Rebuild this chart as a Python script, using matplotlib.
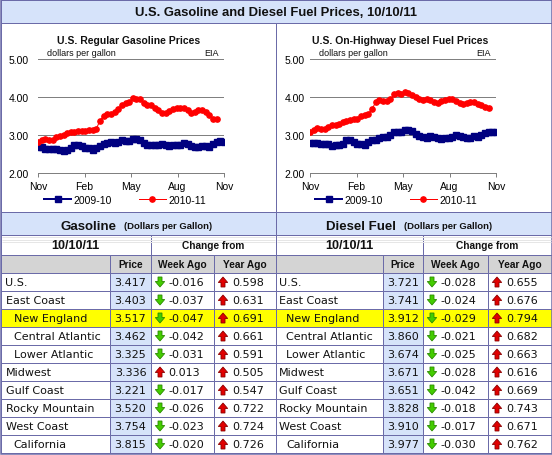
import matplotlib
matplotlib.use('Agg')
import matplotlib.pyplot as plt
from matplotlib.patches import Rectangle, Polygon
import numpy as np

W, H = 552, 456

# weekly retail prices, dollars per gallon (Nov .. Oct)
gas_0910 = [2.697, 2.683, 2.640, 2.633, 2.637, 2.636, 2.599, 2.583, 2.606, 2.655,
            2.749, 2.739, 2.698, 2.660, 2.653, 2.609, 2.650, 2.711, 2.767, 2.790,
            2.815, 2.788, 2.822, 2.862, 2.855, 2.849, 2.900, 2.902, 2.878, 2.797,
            2.745, 2.733, 2.728, 2.737, 2.756, 2.730, 2.720, 2.726, 2.729, 2.733,
            2.780, 2.756, 2.706, 2.687, 2.694, 2.717, 2.712, 2.696, 2.760, 2.819,
            2.829, 2.814]
gas_1011 = [2.804, 2.869, 2.889, 2.868, 2.857, 2.939, 2.985, 2.998, 3.054, 3.076,
            3.073, 3.109, 3.095, 3.101, 3.132, 3.134, 3.169, 3.375, 3.511, 3.564,
            3.554, 3.595, 3.684, 3.791, 3.842, 3.879, 3.965, 3.960, 3.946, 3.846,
            3.794, 3.787, 3.712, 3.652, 3.571, 3.573, 3.632, 3.683, 3.704, 3.705,
            3.700, 3.646, 3.577, 3.617, 3.670, 3.669, 3.609, 3.524, 3.433, 3.417]
dsl_0910 = [2.802, 2.800, 2.783, 2.774, 2.764, 2.754, 2.722, 2.728, 2.726, 2.772,
            2.867, 2.861, 2.815, 2.766, 2.760, 2.745, 2.823, 2.856, 2.880, 2.909,
            2.944, 2.940, 3.012, 3.075, 3.072, 3.071, 3.122, 3.133, 3.094, 3.037,
            2.983, 2.953, 2.918, 2.977, 2.940, 2.919, 2.905, 2.918, 2.929, 2.940,
            2.997, 2.966, 2.949, 2.926, 2.929, 2.963, 2.957, 2.990, 3.058, 3.066,
            3.076, 3.075]
dsl_1011 = [3.066, 3.143, 3.183, 3.163, 3.156, 3.220, 3.253, 3.270, 3.281, 3.334,
            3.358, 3.394, 3.413, 3.427, 3.487, 3.520, 3.563, 3.687, 3.857, 3.912,
            3.896, 3.906, 3.939, 4.068, 4.098, 4.092, 4.124, 4.104, 4.061, 3.997,
            3.948, 3.931, 3.950, 3.923, 3.865, 3.836, 3.887, 3.931, 3.949, 3.954,
            3.901, 3.838, 3.807, 3.846, 3.865, 3.856, 3.825, 3.789, 3.749, 3.721]

month_labels = ['Nov', 'Feb', 'May', 'Aug', 'Nov']
y_labels = ['2.00', '3.00', '4.00', '5.00']

regions = ['U.S.', 'East Coast', 'New England', 'Central Atlantic', 'Lower Atlantic',
           'Midwest', 'Gulf Coast', 'Rocky Mountain', 'West Coast', 'California']
indented = [False, False, True, True, True, False, False, False, False, True]
highlight = 'New England'

gas_price = [3.417, 3.403, 3.517, 3.462, 3.325, 3.336, 3.221, 3.520, 3.754, 3.815]
gas_week = [-0.016, -0.037, -0.047, -0.042, -0.031, 0.013, -0.017, -0.026, -0.023, -0.020]
gas_year = [0.598, 0.631, 0.691, 0.661, 0.591, 0.505, 0.547, 0.722, 0.724, 0.726]
dsl_price = [3.721, 3.741, 3.912, 3.860, 3.674, 3.671, 3.651, 3.828, 3.910, 3.977]
dsl_week = [-0.028, -0.024, -0.029, -0.021, -0.025, -0.028, -0.042, -0.018, -0.017, -0.030]
dsl_year = [0.655, 0.676, 0.794, 0.682, 0.663, 0.616, 0.669, 0.743, 0.671, 0.762]

BORDER = '#6b6ba8'
LIGHTBLUE = '#d6e3fa'
HEADGRAY = '#d4d4d4'
GRID = '#808080'
NAVY = '#000080'
RED = '#ff0000'
TXT = '#111111'
ARIAL = 'Liberation Sans'
VERDANA = 'DejaVu Sans'
PX = 0.72  # one pixel in points

fig = plt.figure(figsize=(W / 100, H / 100), dpi=100)
bg = fig.add_axes([0, 0, 1, 1])
bg.set_xlim(0, W)
bg.set_ylim(H, 0)
bg.axis('off')


def box(x0, y0, x1, y1, fc, ec=BORDER, lw=1):
    bg.add_patch(Rectangle((x0, y0), x1 - x0, y1 - y0, facecolor=fc,
                           edgecolor=ec, linewidth=lw * PX))


def hline(y, x0, x1, color=BORDER, lw=1):
    bg.plot([x0, x1], [y, y], color=color, lw=lw * PX, solid_capstyle='butt')


def arrow(cx, cy, up):
    # little up/down arrow icon, 9 px wide and 10 px tall
    s = -1 if up else 1
    pts = [(cx - 2, cy - s * 5), (cx + 2, cy - s * 5), (cx + 2, cy - s * 0.5),
           (cx + 4.7, cy - s * 0.5), (cx, cy + s * 5), (cx - 4.7, cy - s * 0.5),
           (cx - 2, cy - s * 0.5)]
    fc, ec = ('#e00000', '#8a0000') if up else ('#44cc00', '#2a8a00')
    bg.add_patch(Polygon(pts, closed=True, facecolor=fc, edgecolor=ec, linewidth=0.6))


# title bar and chart panels
box(0.5, 0.5, 551.5, 23.5, LIGHTBLUE)
bg.text(276, 12.5, 'U.S. Gasoline and Diesel Fuel Prices, 10/10/11', ha='center', va='center',
        fontsize=9.4, fontweight='bold', family=ARIAL, color=TXT)
box(0.5, 23.5, 276, 213, 'white')
box(276, 23.5, 551.5, 213, 'white')


def price_chart(left, pad, title, title_x, legend_x, old, new):
    ax = fig.add_axes([left / W, 1 - 174 / H, 186 / W, 114 / H])
    ax.patch.set_alpha(0)
    ax.plot(np.arange(len(old)), old, color=NAVY, lw=2 * PX, marker='s', ms=3.8,
            label='2009-10')
    ax.plot(np.arange(len(new)), new, color=RED, lw=1 * PX, marker='o', ms=3.8,
            label='2010-11')
    ax.set_xlim(0, 51)
    ax.set_ylim(2, 5)
    ax.set_yticks([2, 3, 4, 5])
    ax.set_yticklabels(y_labels, family=ARIAL, fontsize=7.5)
    ax.set_xticks(np.linspace(0, 51, 5))
    ax.set_xticklabels(month_labels, family=ARIAL, fontsize=7.5)
    ax.grid(axis='y', color=GRID, lw=1 * PX)
    ax.set_axisbelow(True)
    for s in ['left', 'right', 'top']:
        ax.spines[s].set_visible(False)
    ax.spines['bottom'].set_color(GRID)
    ax.spines['bottom'].set_linewidth(1 * PX)
    ax.tick_params(axis='y', length=0, pad=pad)
    ax.tick_params(axis='x', length=3, width=1 * PX, color=GRID, pad=3)
    ax.text(0.05, 1.015, 'dollars per gallon', transform=ax.transAxes, ha='left',
            va='bottom', fontsize=6.5, family=ARIAL, color=TXT)
    ax.text(0.97, 1.015, 'EIA', transform=ax.transAxes, ha='right', va='bottom',
            fontsize=6.5, family=ARIAL, color=TXT)
    fig.text(title_x / W, 1 - 41 / H, title, ha='center', va='center', fontsize=7.5,
             fontweight='bold', family=ARIAL, color=TXT)
    ax.legend(loc='center', bbox_to_anchor=(legend_x / W, 1 - 201 / H),
              bbox_transform=fig.transFigure, ncol=2, frameon=False,
              prop={'family': ARIAL, 'size': 7.5}, handlelength=2.6,
              handletextpad=0.2, columnspacing=2.6)


price_chart(38, 6.5, 'U.S. Regular Gasoline Prices', 128.5, 125, gas_0910, gas_1011)
price_chart(310, 3.5, 'U.S. On-Highway Diesel Fuel Prices', 400, 396, dsl_0910, dsl_1011)


def price_table(cols, fuel, fuel_x, note_x, name_off, price, week, year):
    x0, c1, c2, c3, x1 = cols
    # title row
    box(x0, 213, x1, 236, LIGHTBLUE)
    bg.text(x0 + fuel_x, 230, fuel, ha='left', va='baseline', fontsize=9.5,
            fontweight='bold', family=ARIAL, color=TXT)
    bg.text(x0 + note_x, 229.5, '(Dollars per Gallon)', ha='left', va='baseline',
            fontsize=6.8, fontweight='bold', family=ARIAL, color=TXT)
    # date row
    box(x0, 236, c2, 256, 'white')
    box(c2, 236, x1, 256, 'white')
    for yy in (238, 240.5, 243):
        hline(yy, x0 + 1, x1 - 1, color='#e6e6e6')
    bg.text((x0 + c2) / 2, 246.5, '10/10/11', ha='center', va='center', fontsize=9,
            fontweight='bold', family=ARIAL, color=TXT)
    bg.text((c2 + x1) / 2, 246.5, 'Change from', ha='center', va='center', fontsize=7.3,
            fontweight='bold', family=ARIAL, color=TXT)
    # column header row
    box(x0, 256, c1, 274, HEADGRAY)
    for a, b, lab in [(c1, c2, 'Price'), (c2, c3, 'Week Ago'), (c3, x1, 'Year Ago')]:
        box(a, 256, b, 274, HEADGRAY)
        bg.text((a + b) / 2, 265.5, lab, ha='center', va='center', fontsize=7.3,
                fontweight='bold', family=ARIAL, color=TXT)
    # data rows
    for i, name in enumerate(regions):
        y0 = 274 + 18 * i
        y1 = y0 + 18
        yc = y0 + 9.5
        hl = name == highlight
        box(x0, y0, c1, y1, '#ffff00' if hl else 'white')
        box(c1, y0, c2, y1, '#ffff00' if hl else LIGHTBLUE)
        box(c2, y0, c3, y1, '#ffff00' if hl else 'white')
        box(c3, y0, x1, y1, '#ffff00' if hl else 'white')
        bg.text(x0 + name_off[1 if indented[i] else 0], yc, name, ha='left', va='center',
                fontsize=8, family=VERDANA, color=TXT)
        bg.text((c1 + c2) / 2, yc, '%.3f' % price[i], ha='center', va='center',
                fontsize=8, family=VERDANA, color=TXT)
        arrow(c2 + 9, yc - 0.5, week[i] > 0)
        bg.text(c2 + 17.5, yc, '%.3f' % week[i], ha='left', va='center',
                fontsize=8, family=VERDANA, color=TXT)
        arrow(c3 + 9, yc - 0.5, year[i] > 0)
        bg.text(c3 + 18, yc, '%.3f' % year[i], ha='left', va='center',
                fontsize=8, family=VERDANA, color=TXT)


price_table([0.5, 110, 151, 214, 276], 'Gasoline', 60, 123, (5, 13),
            gas_price, gas_week, gas_year)
price_table([276, 383, 423, 488, 551.5], 'Diesel Fuel', 50, 128, (3, 10),
            dsl_price, dsl_week, dsl_year)

# outer frame
box(0.5, 0.5, 551.5, 455.5, 'none', lw=1.5)

fig.savefig('out.png', dpi=100)
